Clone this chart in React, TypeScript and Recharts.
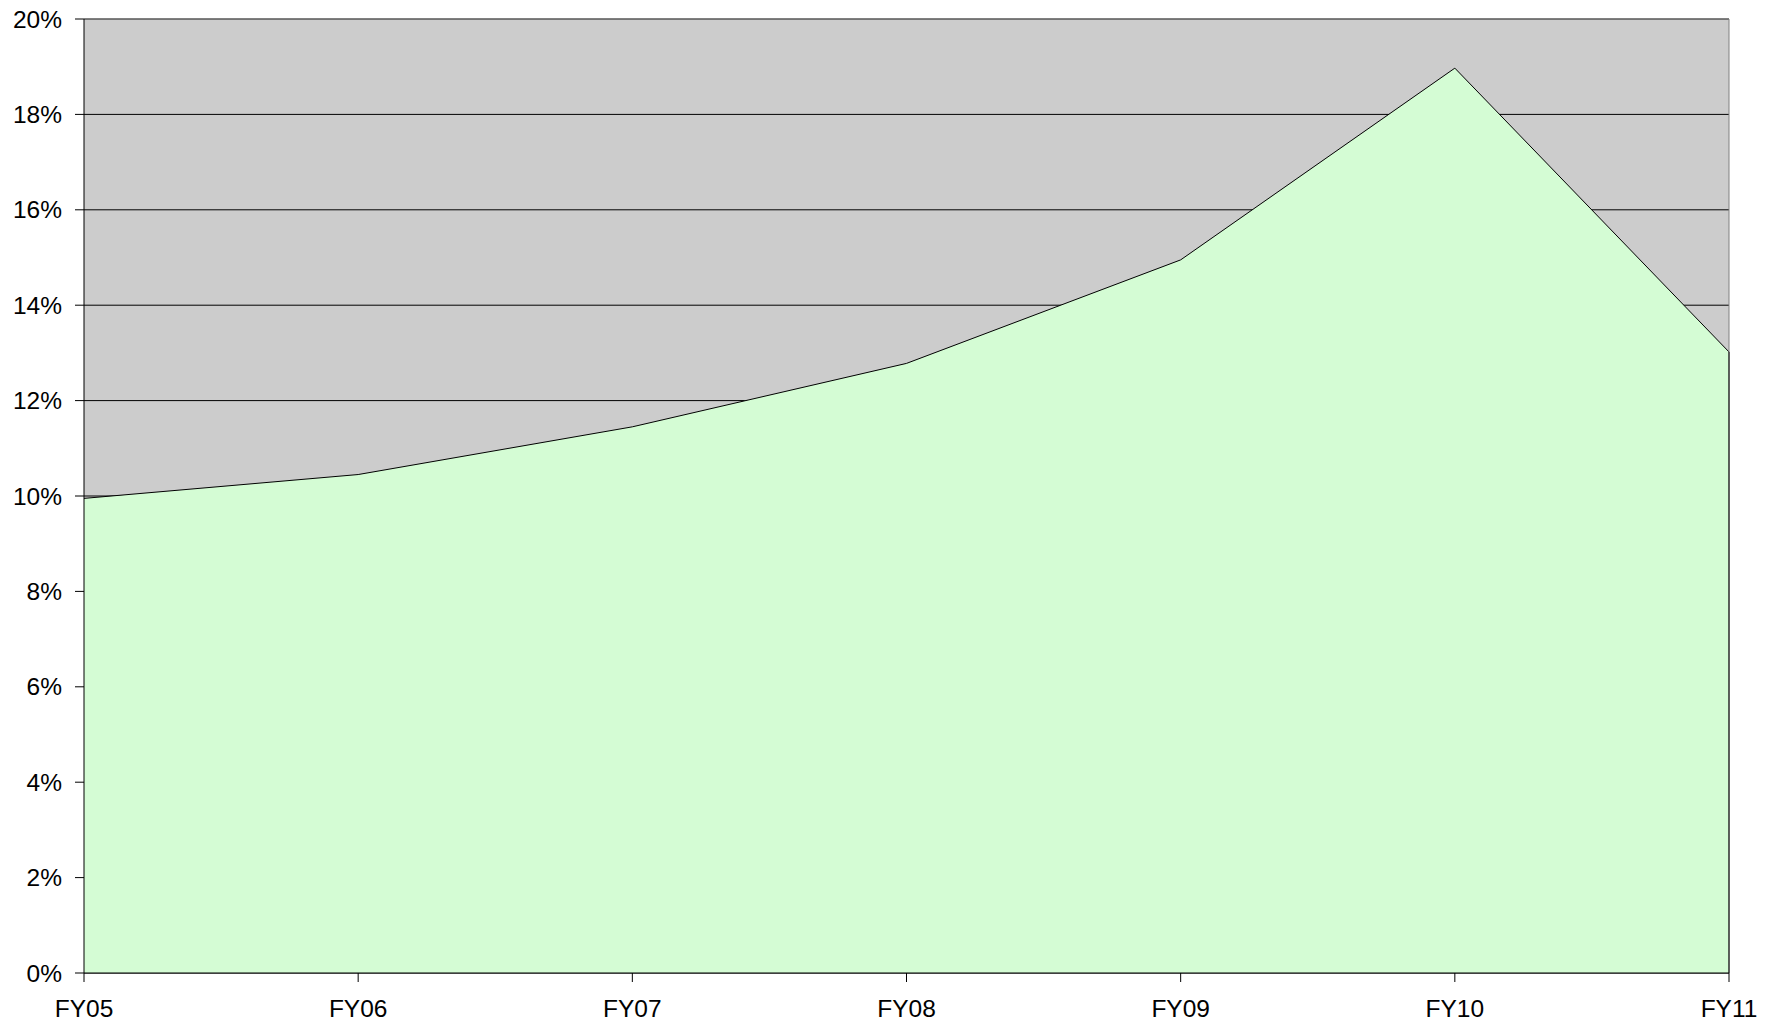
import React from 'react';
import { AreaChart, Area, XAxis, YAxis, CartesianGrid, ReferenceLine } from 'recharts';

const years = ['FY05', 'FY06', 'FY07', 'FY08', 'FY09', 'FY10', 'FY11'];
const rates = [9.95, 10.45, 11.45, 12.78, 14.95, 18.97, 13.02];
const yTicks = [0, 2, 4, 6, 8, 10, 12, 14, 16, 18, 20];

const data = years.map((year, i) => ({ year, rate: rates[i] }));

const font = { fill: '#000000', fontSize: 24.5, fontFamily: 'Liberation Sans, Arial, sans-serif' };

const App: React.FC = () => {
  return (
    <div style={{ width: 1778, height: 1027, background: '#ffffff' }}>
      <style>{'body { margin: 0; }'}</style>
      <AreaChart width={1778} height={1027} data={data} margin={{ top: 19, right: 49, left: 0, bottom: 0 }}>
        <CartesianGrid vertical={false} stroke="#000000" fill="#CCCCCC" fillOpacity={1} />
        <XAxis
          dataKey="year"
          height={54}
          axisLine={{ stroke: '#000000' }}
          tickLine={{ stroke: '#000000' }}
          tickSize={9}
          tickMargin={18}
          tick={font}
          interval={0}
        />
        <YAxis
          width={84}
          domain={[0, 20]}
          ticks={yTicks}
          tickFormatter={(v) => `${v}%`}
          axisLine={{ stroke: '#000000' }}
          tickLine={{ stroke: '#000000' }}
          tickSize={9}
          tickMargin={13}
          tick={font}
          interval={0}
        />
        <ReferenceLine y={20} stroke="#808080" />
        <ReferenceLine x="FY11" stroke="#808080" />
        <Area
          type="linear"
          dataKey="rate"
          stroke="#000000"
          strokeWidth={1}
          fill="#D4FCD4"
          fillOpacity={1}
          isAnimationActive={false}
          dot={false}
          activeDot={false}
        />
        <ReferenceLine
          segment={[
            { x: 'FY11', y: 0 },
            { x: 'FY11', y: rates[rates.length - 1] },
          ]}
          stroke="#000000"
        />
      </AreaChart>
    </div>
  );
};

export default App;
